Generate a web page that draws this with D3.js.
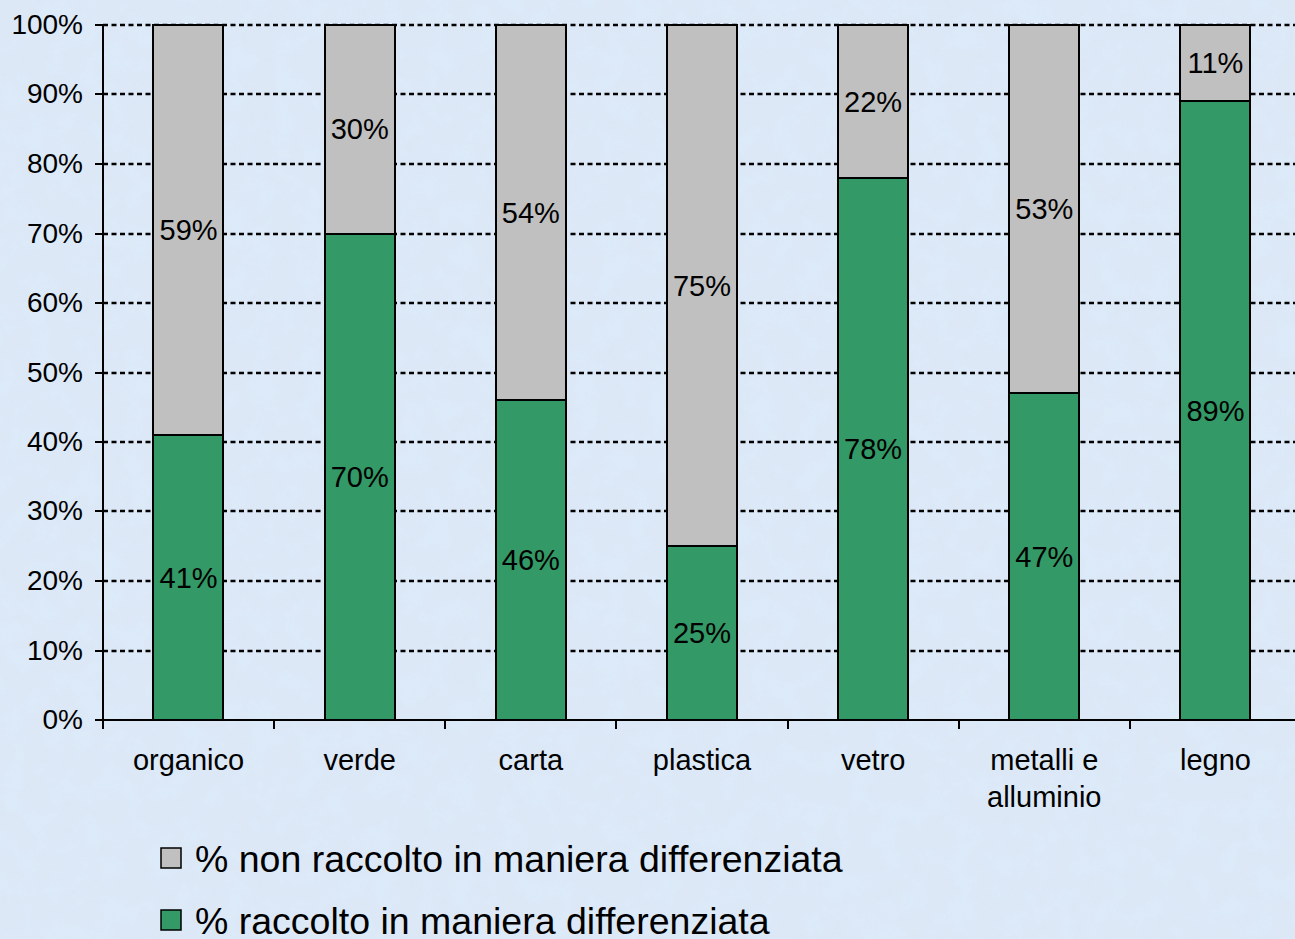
<!DOCTYPE html>
<html>
<head>
<meta charset="utf-8">
<script src="https://cdn.jsdelivr.net/npm/d3@7"></script>
<style>
  html, body { margin: 0; padding: 0; background: #d8e6f5; }
  svg { display: block; font-family: "Liberation Sans", Arial, sans-serif; }
</style>
</head>
<body>
<svg id="chart" width="1295" height="939"></svg>
<script>
// Data
const categories = ["organico", "verde", "carta", "plastica", "vetro", "metalli e|alluminio", "legno"];
const raccolto = [41, 70, 46, 25, 78, 47, 89];
const nonRaccolto = [59, 30, 54, 75, 22, 53, 11];
const seriesNames = ["% non raccolto in maniera differenziata", "% raccolto in maniera differenziata"];
const yTicks = [0, 10, 20, 30, 40, 50, 60, 70, 80, 90, 100];

const colors = { green: "#339966", grey: "#c0c0c0" };

const svg = d3.select('#chart');

// background with a light paper-like texture
const defs = svg.append('defs');
const filt = defs.append('filter').attr('id', 'paper').attr('x', 0).attr('y', 0).attr('width', '100%').attr('height', '100%');
filt.append('feTurbulence').attr('type', 'fractalNoise').attr('baseFrequency', 0.04).attr('numOctaves', 3).attr('seed', 4).attr('result', 'n');
filt.append('feColorMatrix').attr('in', 'n').attr('type', 'matrix')
    .attr('values', '0 0 0 0 0.72  0 0 0 0 0.83  0 0 0 0 0.96  0 0 0 2.2 -0.9');
svg.append('rect').attr('width', 1295).attr('height', 939).attr('fill', '#dce8f6');
svg.append('rect').attr('width', 1295).attr('height', 939).attr('filter', 'url(#paper)').attr('opacity', 0.9);

const margin = { left: 103, top: 25 };
const plotW = 1198, plotH = 695;

const x = d3.scaleBand().domain(categories).range([margin.left, margin.left + plotW]).paddingInner(0.59).paddingOuter(0.295);
const y = d3.scaleLinear().domain([0, 100]).range([margin.top + plotH, margin.top]);
const yr = v => Math.round(y(v));

const g = svg.append('g');

// gridlines
g.selectAll('.grid')
    .data(yTicks.filter(d => d > 0))
    .enter().append('line')
    .attr('x1', margin.left).attr('x2', 1295)
    .attr('y1', d => yr(d)).attr('y2', d => yr(d))
    .attr('stroke', '#000').attr('stroke-width', 2.5)
    .attr('stroke-dasharray', '5,3.5');

// stacked data
const stackData = categories.map((c, i) => ({ cat: c, raccolto: raccolto[i], non: nonRaccolto[i] }));
const stack = d3.stack().keys(['raccolto', 'non'])(stackData);
const fills = { raccolto: colors.green, non: colors.grey };

const layers = g.selectAll('.layer')
    .data(stack)
    .enter().append('g')
    .attr('fill', d => fills[d.key]);

layers.selectAll('rect')
    .data(d => d)
    .enter().append('rect')
    .attr('x', d => Math.round(x(d.data.cat)))
    .attr('width', Math.round(x.bandwidth()))
    .attr('y', d => yr(d[1]))
    .attr('height', d => yr(d[0]) - yr(d[1]))
    .attr('stroke', '#000').attr('stroke-width', 2);

// value labels
layers.selectAll('text')
    .data(d => d.map(v => ({ v, key: d.key })))
    .enter().append('text')
    .attr('x', d => x(d.v.data.cat) + x.bandwidth() / 2)
    .attr('y', d => (y(d.v[0]) + y(d.v[1])) / 2)
    .attr('dy', '0.35em')
    .attr('text-anchor', 'middle')
    .attr('fill', '#000')
    .style('font-size', '29px')
    .text(d => d.v.data[d.key] + '%');

// y axis
const yAxis = d3.axisLeft(y).tickValues(yTicks).tickFormat(d => d + '%').tickSize(8).tickPadding(12);
const ya = svg.append('g').attr('transform', `translate(${margin.left},0)`).call(yAxis);
ya.select('.domain').attr('stroke-width', 2).attr('d', `M0,${yr(100)}V${yr(0)}`);
ya.selectAll('.tick').attr('transform', d => `translate(0,${yr(d)})`);
ya.selectAll('.tick line').attr('stroke-width', 2);
ya.selectAll('.tick text').style('font-size', '28px').attr('fill', '#000').style('font-family', '"Liberation Sans", Arial, sans-serif');

// x axis
const xa = svg.append('g').attr('transform', `translate(0,${yr(0)})`);
xa.append('line').attr('x1', margin.left - 8).attr('x2', 1295).attr('stroke', '#000').attr('stroke-width', 2);
const bounds = d3.range(categories.length + 1).map(i => Math.round(margin.left + i * x.step()));
xa.selectAll('.xtick').data(bounds).enter().append('line')
    .attr('x1', d => d).attr('x2', d => d).attr('y1', 0).attr('y2', 9)
    .attr('stroke', '#000').attr('stroke-width', 2);
const xl = xa.selectAll('.xlabel').data(categories).enter().append('text')
    .attr('x', d => x(d) + x.bandwidth() / 2)
    .attr('y', 50)
    .attr('text-anchor', 'middle')
    .style('font-size', '29px');
xl.each(function(d) {
    const parts = d.split('|');
    d3.select(this).selectAll('tspan').data(parts).enter().append('tspan')
        .attr('x', x(d) + x.bandwidth() / 2)
        .attr('dy', (p, i) => i === 0 ? 0 : 37)
        .text(p => p);
});

// legend
const legend = svg.append('g').attr('transform', 'translate(160,858)');
const legendItems = [
    { name: seriesNames[0], color: colors.grey },
    { name: seriesNames[1], color: colors.green }
];
const li = legend.selectAll('g').data(legendItems).enter().append('g')
    .attr('transform', (d, i) => `translate(0,${i * 62})`);
li.append('rect').attr('x', 1).attr('y', -10).attr('width', 20).attr('height', 20)
    .attr('fill', d => d.color).attr('stroke', '#000').attr('stroke-width', 1.5);
li.append('text').attr('x', 35).attr('dy', '0.36em').style('font-size', '37.5px').text(d => d.name);
</script>
</body>
</html>
